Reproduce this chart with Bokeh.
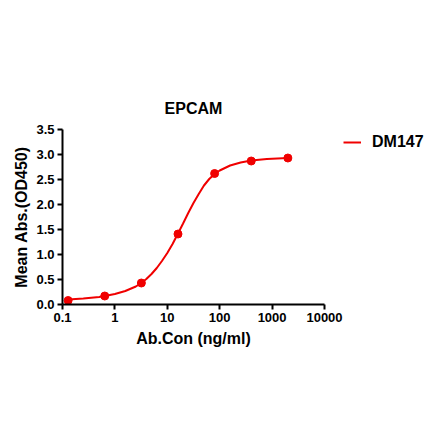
from bokeh.plotting import figure
from bokeh.models import Range1d, FixedTicker, CustomJSTickFormatter, Legend, LegendItem
from bokeh.embed import file_html
from bokeh.resources import INLINE

# data
conc = [0.128, 0.64, 3.2, 16, 80, 400, 2000]
od450 = [0.08, 0.17, 0.43, 1.41, 2.62, 2.87, 2.93]

# fitted curve
fit_x = [0.128, 0.25, 0.5, 0.64, 1.0, 1.58, 2.51, 3.2, 3.98, 5.0, 6.3, 7.9, 10, 12.6, 16, 20, 25.1, 31.6, 39.8, 50.1, 63.1, 80, 100, 158, 251, 400, 794, 2000]
fit_y = [0.10, 0.12, 0.15, 0.17, 0.21, 0.27, 0.36, 0.43, 0.51, 0.61, 0.73, 0.87, 1.03, 1.21, 1.42, 1.62, 1.83, 2.03, 2.21, 2.38, 2.51, 2.61, 2.68, 2.78, 2.84, 2.88, 2.91, 2.93]

x_ticks = [0.1, 1, 10, 100, 1000, 10000]
x_tick_labels = ["0.1", "1", "10", "100", "1000", "10000"]
y_ticks = [0, 0.5, 1.0, 1.5, 2.0, 2.5, 3.0, 3.5]
y_tick_labels = ["0.0", "0.5", "1.0", "1.5", "2.0", "2.5", "3.0", "3.5"]

RED = "#F00000"
FONT = "Liberation Sans"

p = figure(frame_width=262, frame_height=175, x_axis_type="log",
           x_range=Range1d(0.1, 10000), y_range=Range1d(0, 3.5),
           output_backend="svg", toolbar_location=None,
           min_border_left=62, min_border_right=110,
           min_border_top=129, min_border_bottom=128,
           title="EPCAM")

p.title.align = "center"
p.title.text_font = FONT
p.title.text_font_size = "16px"
p.title.text_font_style = "bold"
p.title.text_color = "black"
p.title.standoff = 26

p.grid.visible = False
p.outline_line_color = None

for ax in (p.xaxis[0], p.yaxis[0]):
    ax.axis_line_width = 2
    ax.axis_line_color = "black"
    ax.major_tick_line_width = 2
    ax.major_tick_line_color = "black"
    ax.major_tick_out = 5
    ax.major_tick_in = 0
    ax.minor_tick_line_color = None
    ax.major_label_text_font = FONT
    ax.major_label_text_font_size = "13px"
    ax.major_label_text_font_style = "bold"
    ax.major_label_text_color = "black"
    ax.major_label_standoff = 3
    ax.axis_label_text_font = FONT
    ax.axis_label_text_font_size = "16px"
    ax.axis_label_text_font_style = "bold"
    ax.axis_label_text_color = "black"

p.xaxis.ticker = FixedTicker(ticks=x_ticks)
p.xaxis.formatter = CustomJSTickFormatter(args=dict(vals=x_ticks, labs=x_tick_labels), code="""
let best = 0, d = Infinity;
for (let i = 0; i < vals.length; i++) {
  const dd = Math.abs(Math.log10(vals[i]) - Math.log10(tick));
  if (dd < d) { d = dd; best = i; }
}
return labs[best];
""")
p.yaxis.ticker = FixedTicker(ticks=y_ticks)
p.yaxis.formatter = CustomJSTickFormatter(args=dict(vals=y_ticks, labs=y_tick_labels), code="""
let best = 0, d = Infinity;
for (let i = 0; i < vals.length; i++) {
  const dd = Math.abs(vals[i] - tick);
  if (dd < d) { d = dd; best = i; }
}
return labs[best];
""")
p.xaxis.axis_label = "Ab.Con (ng/ml)"
p.xaxis.axis_label_standoff = 5
p.yaxis.axis_label = "Mean Abs.(OD450)"
p.yaxis.axis_label_standoff = 3

line = p.line(fit_x, fit_y, line_color=RED, line_width=2)
p.scatter(conc, od450, size=8, fill_color=RED, line_color=RED)

legend = Legend(items=[LegendItem(label="DM147", renderers=[line])],
                location=(19, 152), border_line_color=None,
                background_fill_alpha=0, margin=0, padding=0,
                glyph_width=18, label_standoff=11,
                label_text_font=FONT, label_text_font_size="16px",
                label_text_font_style="bold", label_text_color="black")
p.add_layout(legend, "right")

open("out.html", "w").write(file_html(p, INLINE))
